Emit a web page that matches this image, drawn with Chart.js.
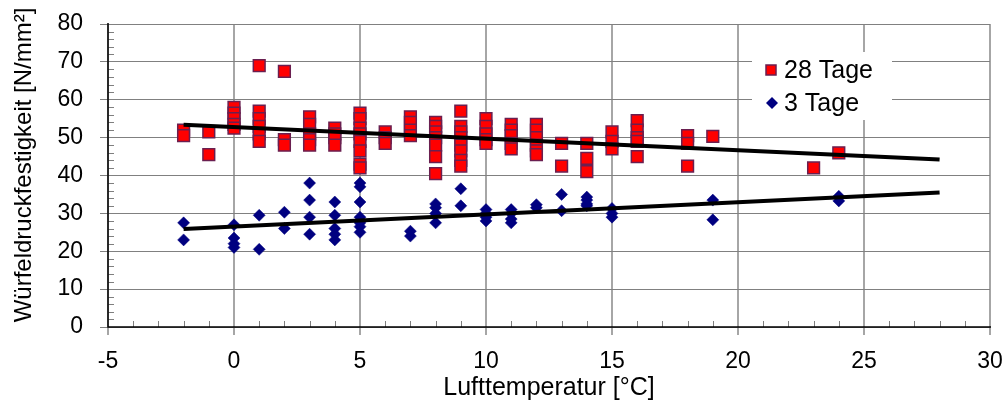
<!DOCTYPE html>
<html>
<head>
<meta charset="utf-8">
<script src="https://cdn.jsdelivr.net/npm/chart.js@4/dist/chart.umd.min.js"></script>
<style>
  html, body { margin: 0; padding: 0; background: #fff; }
  #wrap { width: 1004px; height: 408px; }
</style>
</head>
<body>
<div id="wrap"><canvas id="c" width="1004" height="408"></canvas></div>
<script>
// ---- data ----
const temps28 = [-2,-2, -1,-1, 0,0,0,0,0, 1,1,1,1,1,1, 2,2,2, 3,3,3,3,3, 4,4,4,4,
  5,5,5,5,5,5,5,5, 6,6,6, 7,7,7,7, 8,8,8,8,8,8,8, 9,9,9,9,9,9,9,9,
  10,10,10,10,10, 11,11,11,11,11, 12,12,12,12,12,12, 13,13, 14,14,14, 15,15,15,
  16,16,16,16,16, 18,18,18, 19, 23, 24];
const values28 = [52,50.5, 51.5,45.5, 58,56.5,55,53.5,52.5, 69,57,55,53,51,49, 67.5,49.5,48,
  55.5,53.5,51,49.5,48, 52.5,51,50,48,
  56.5,55,52.5,51,49,46.5,43,42, 51.5,50,48.5, 55.5,54,52,50.5, 54,53,51.5,50,48,45,40.5,
  57,53,51.5,50,48,46.5,44,42.5,
  55,53,51,49.5,48.5, 53.5,52,50.5,48.5,47, 53.5,52,50,48,46.5,45.5, 48.5,42.5, 48.5,44.5,41,
  51.5,49,47, 54.5,52,50,49,45, 50.5,48.5,42.5, 50.3, 42, 46];

const temps3 = [-2,-2, 0,0,0,0, 1,1, 2,2, 3,3,3,3, 4,4,4,4,4, 5,5,5,5,5,5,5,5,
  7,7, 8,8,8,8, 9,9, 10,10,10,10, 11,11,11,11, 12,12, 13,13, 14,14,14,14, 15,15,15,
  19,19, 24,24];
const values3 = [27.5,23, 27,23.5,22,21, 29.5,20.5, 30.3,26, 38,33.5,29,24.5, 33,29.5,26,24.5,23,
  38,37,33,29,28,27.5,26.5,25,
  25.3,24, 32.5,31.5,30,27.5, 36.5,32, 31,30,29,28, 31,30,28.5,27.5, 32.3,31.5, 35,30.7,
  34.3,33.5,32.5,32, 31.3,30,29, 33.5,28.3, 34.5,33.3];

const trendX = [-2, 28];
const trend28 = [53.4, 44.2];
const trend3 = [25.9, 35.5];

const seriesNames = ['28 Tage', '3 Tage'];
const xTitle = 'Lufttemperatur [°C]';
const yTitle = 'Würfeldruckfestigkeit [N/mm²]';

const FONT = '"Liberation Sans", Arial, Helvetica, sans-serif';
const RED = '#ff0000', RED_BORDER = '#6a1f50', NAVY = '#000080';

const toPts = (xs, ys) => xs.map((x, i) => ({x: x, y: ys[i]}));

const extras = {
  id: 'extras',
  afterDatasetsDraw(chart) {
    const ctx = chart.ctx;
    const xs = chart.scales.x, ys = chart.scales.y;
    const ax = xs.left, ay = ys.bottom;
    ctx.save();
    // minor ticks (inside)
    ctx.strokeStyle = '#7f7f7f';
    ctx.lineWidth = 1;
    ctx.beginPath();
    for (let v = 0; v <= 80; v += 2) {
      if (v % 10 === 0) continue;
      const py = Math.round(ys.getPixelForValue(v)) + 0.5;
      ctx.moveTo(ax, py); ctx.lineTo(ax + 6, py);
    }
    for (let v = -5; v <= 30; v += 1) {
      if (v % 5 === 0) continue;
      const px = Math.round(xs.getPixelForValue(v)) + 0.5;
      ctx.moveTo(px, ay); ctx.lineTo(px, ay - 6);
    }
    ctx.stroke();
    // axis lines on top
    ctx.strokeStyle = '#000';
    ctx.lineWidth = 1.5;
    ctx.beginPath();
    ctx.moveTo(ax, ys.top - 1); ctx.lineTo(ax, ay);
    ctx.lineTo(xs.right + 1, ay);
    ctx.stroke();
    ctx.restore();
  },
  afterDraw(chart) {
    const ctx = chart.ctx;
    ctx.save();
    // y axis title
    ctx.fillStyle = '#000';
    ctx.font = '24px ' + FONT;
    ctx.textAlign = 'center';
    ctx.textBaseline = 'middle';
    ctx.translate(24, 165);
    ctx.rotate(-Math.PI / 2);
    ctx.fillText(yTitle, 0, 0);
    ctx.restore();

    ctx.save();
    // legend box
    ctx.fillStyle = '#fff';
    ctx.fillRect(752, 52, 140, 68);
    // red square
    ctx.fillStyle = RED; ctx.strokeStyle = RED_BORDER; ctx.lineWidth = 1.5;
    ctx.fillRect(766, 65, 10, 10); ctx.strokeRect(766, 65, 10, 10);
    // navy diamond
    ctx.fillStyle = NAVY;
    ctx.beginPath();
    ctx.moveTo(772, 97); ctx.lineTo(778, 103); ctx.lineTo(772, 109); ctx.lineTo(766, 103);
    ctx.closePath(); ctx.fill();
    ctx.fillStyle = '#000';
    ctx.font = '25px ' + FONT;
    ctx.textBaseline = 'middle';
    ctx.textAlign = 'left';
    ctx.fillText(seriesNames[0], 784, 71);
    ctx.fillText(seriesNames[1], 784, 104);
    ctx.restore();
  }
};

new Chart(document.getElementById('c'), {
  type: 'scatter',
  data: {
    datasets: [
      { label: 'Trend 28', type: 'line', data: toPts(trendX, trend28), borderColor: '#000',
        borderWidth: 4, pointRadius: 0, fill: false, order: 0 },
      { label: 'Trend 3', type: 'line', data: toPts(trendX, trend3), borderColor: '#000',
        borderWidth: 4, pointRadius: 0, fill: false, order: 1 },
      { label: seriesNames[0], data: toPts(temps28, values28), pointStyle: 'rect',
        pointRadius: 8.3, backgroundColor: RED, borderColor: RED_BORDER, borderWidth: 1.5, order: 2 },
      { label: seriesNames[1], data: toPts(temps3, values3), pointStyle: 'rectRot',
        pointRadius: 6, backgroundColor: NAVY, borderColor: NAVY, borderWidth: 0.5, order: 3 }
    ]
  },
  options: {
    responsive: false,
    animation: false,
    layout: { padding: { top: 24, right: 14, left: 0, bottom: 0 } },
    plugins: { legend: { display: false }, tooltip: { enabled: false } },
    scales: {
      x: {
        type: 'linear', min: -5, max: 30,
        afterFit(s) { s.height = 81; s.paddingRight = 0; s.paddingLeft = 0; },
        ticks: { stepSize: 5, color: '#000', font: { family: FONT, size: 23 }, padding: 13 },
        grid: { color: '#a6a6a6', lineWidth: 2, tickLength: 8, drawTicks: true },
        border: { display: false },
        title: { display: true, text: xTitle, color: '#000', font: { family: FONT, size: 25 }, padding: { top: 0, bottom: 5 } }
      },
      y: {
        min: 0, max: 80,
        afterFit(s) { s.width = 108; s.paddingTop = 0; s.paddingBottom = 0; },
        ticks: { stepSize: 10, color: '#000', font: { family: FONT, size: 23 }, padding: 17 },
        grid: { color: '#808080', lineWidth: 1, tickLength: 8, drawTicks: true },
        border: { display: false },
        title: { display: false }
      }
    }
  },
  plugins: [extras]
});
</script>
</body>
</html>
